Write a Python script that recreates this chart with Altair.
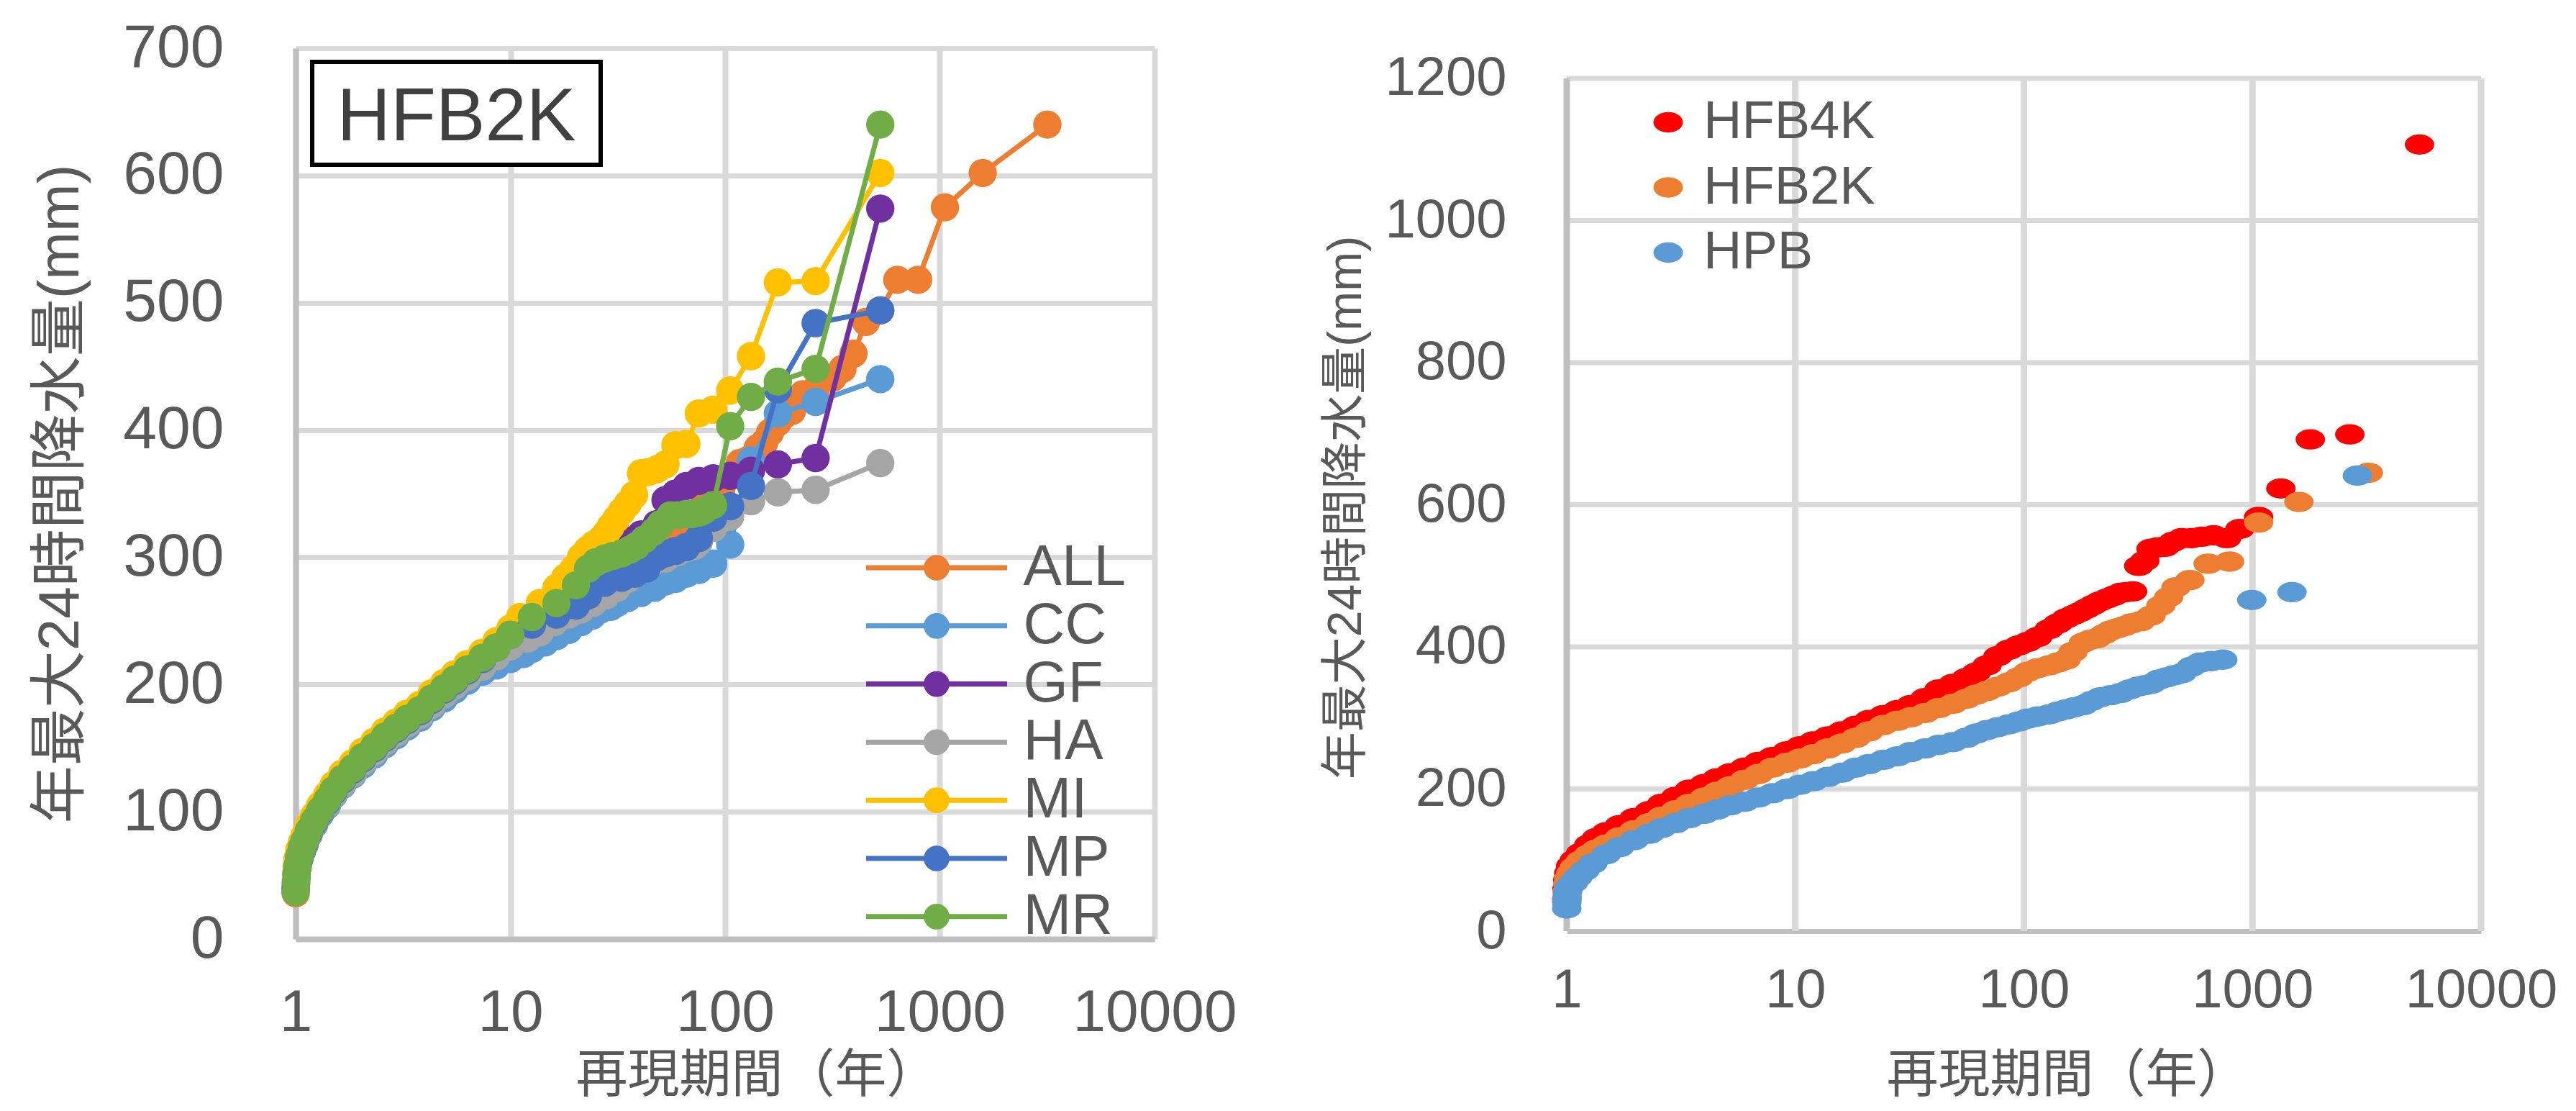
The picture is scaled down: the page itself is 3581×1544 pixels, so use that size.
import altair as alt
import pandas as pd

FONT = "Liberation Sans, Noto Sans CJK JP, sans-serif"
TEXT_COLOR = "#595959"
GRID_COLOR = "#D9D9D9"
AXIS_COLOR = "#BFBFBF"

# ---------------- left panel data (return period T [yr], annual max 24h rainfall V [mm]) ----------
LEFT_NAMES = ["ALL", "CC", "GF", "HA", "MI", "MP", "MR"]
LEFT_COLORS = ["#ED7D31", "#5B9BD5", "#7030A0", "#A5A5A5", "#FFC000", "#4472C4", "#70AD47"]
BOX_LABEL = "HFB2K"

LOW_T = [1.0, 1.005, 1.01, 1.02, 1.04, 1.07, 1.1, 1.15, 1.22, 1.3, 1.4, 1.5, 1.65, 1.84, 2.05,
         2.32, 2.6, 2.93, 3.3, 3.79, 4.3, 4.9, 5.5, 6.3, 7.4, 8.6, 10.0]

ALL_T = LOW_T + [12.6, 16.4, 20, 25, 30, 36, 42, 50, 56, 63, 69, 75, 80, 88, 96, 107, 117, 127, 135,
                 142, 152, 162, 176, 186, 205, 230, 264, 317, 352, 396, 453, 528, 634, 792, 1056,
                 1584, 3168]
ALL_V = [36, 43, 49, 56, 64, 71, 76, 84, 92, 100, 108, 116, 125, 133, 142, 150, 158, 165, 172, 179,
         188, 196, 203, 211, 220, 228, 237,
         247, 258, 269, 282, 294, 302, 310, 316, 320, 324, 330, 335, 342, 348, 353, 364, 374, 376,
         379, 386, 390, 398, 406, 411, 415, 428, 432, 441, 448, 460, 485, 494, 518, 518, 575,
         602, 640]

CC_T = LOW_T + [11.5, 12.6, 14.5, 16.4, 18.7, 21.3, 24, 26.4, 29.3, 31.4, 35.2, 40.6, 46.9, 52.8,
                58.7, 66, 75.4, 88, 105.6, 132, 176, 264, 528]
CC_V = [42, 47, 52, 57, 63, 69, 74, 82, 90, 98, 105, 113, 121, 129, 137, 145, 153, 160, 167, 174,
        182, 189, 196, 203, 210, 215, 220,
        224, 228, 233, 238, 243, 249, 254, 259, 261, 264, 268, 272, 276, 281, 283, 287, 290, 295,
        310, 376, 413, 422, 440]

GF_T = LOW_T + [12.6, 16.4, 20.2, 24, 29.3, 35.2, 40.6, 48, 52.8, 58.7, 66, 75.4, 88, 105.6, 132,
                176, 264, 528]
GF_V = [40, 46, 51, 56, 63, 70, 75, 83, 91, 99, 107, 115, 124, 132, 141, 149, 157, 164, 171, 178,
        187, 195, 202, 210, 219, 227, 236,
        250, 263, 277, 290, 305, 313, 318, 326, 345, 350, 356, 360, 362, 364, 368, 373, 378, 574]

HA_T = LOW_T + [12, 13.7, 16, 18.7, 21.3, 24.2, 27.8, 31.4, 35.2, 40.7, 46, 52.8, 60, 66, 72.3,
                75.4, 88, 105.6, 132, 176, 264, 528]
HA_V = [44, 48, 53, 58, 64, 70, 75, 83, 91, 99, 106, 114, 122, 130, 139, 147, 155, 162, 169, 176,
        184, 192, 199, 206, 214, 222, 230,
        236, 241, 249, 255, 259, 264, 270, 276, 283, 291, 296, 299, 304, 307, 309, 312, 323, 332,
        344, 351, 353, 374]

MI_T = LOW_T + [11.1, 13.7, 16.4, 18, 19.7, 21.3, 22.9, 24.5, 26.4, 28, 29.3, 31.1, 33, 35.2, 37.7,
                40.6, 44, 48, 52.8, 58.7, 66, 75.4, 88, 105.6, 132, 176, 264, 528]
MI_V = [42, 50, 57, 63, 70, 76, 81, 89, 97, 105, 113, 121, 130, 138, 147, 155, 163, 170, 177, 184,
        193, 201, 208, 216, 225, 234, 244,
        253, 264, 276, 284, 291, 300, 306, 310, 314, 319, 324, 330, 336, 342, 349, 366, 367, 369,
        373, 388, 389, 413, 416, 431, 458, 516, 517, 602]

MP_T = LOW_T + [12.6, 16.4, 20.2, 23, 27.5, 33, 38, 43, 48, 52.8, 58.7, 66, 75.4, 88, 105.6, 132,
                176, 264, 528]
MP_V = [39, 45, 51, 57, 64, 71, 76, 84, 92, 100, 108, 116, 125, 133, 142, 150, 158, 165, 172, 179,
        188, 196, 203, 211, 220, 229, 239,
        247, 255, 262, 270, 280, 284, 287, 291, 300, 303, 305, 308, 315, 331, 340, 356, 432, 484, 494]

MR_T = LOW_T + [12.6, 16.4, 20.2, 23, 25, 27.5, 30, 33, 36, 38.7, 42, 46.4, 50, 55.7, 60, 66, 70.3,
                75.4, 80, 88, 105.6, 132, 176, 264, 528]
MR_V = [37, 44, 50, 57, 65, 72, 77, 85, 93, 101, 109, 117, 126, 134, 143, 151, 159, 166, 173, 180,
        189, 197, 204, 212, 221, 229, 239,
        253, 264, 278, 291, 296, 299, 301, 303, 306, 309, 314, 320, 326, 333, 333, 334, 334, 335,
        337, 341, 403, 426, 438, 448, 640]

LEFT_SERIES = {"ALL": (ALL_T, ALL_V), "CC": (CC_T, CC_V), "GF": (GF_T, GF_V), "HA": (HA_T, HA_V),
               "MI": (MI_T, MI_V), "MP": (MP_T, MP_V), "MR": (MR_T, MR_V)}

# ---------------- right panel data ----------------
RIGHT_NAMES = ["HFB4K", "HFB2K", "HPB"]
RIGHT_COLORS = ["#FF0000", "#ED7D31", "#5B9BD5"]

HFB4K_T = [1.0, 1.003, 1.01, 1.02, 1.04, 1.08, 1.15, 1.25, 1.35, 1.49, 1.7, 1.97, 2.3, 2.6, 3.0,
           3.44, 4.0, 4.55, 5.2, 6.0, 6.9, 7.95, 9.2, 10.5, 12, 13.9, 16, 18.4, 21, 24.3, 28, 32,
           37, 42.5, 49, 56, 62, 69, 77, 86, 95, 104, 115, 129, 141, 153, 165, 176, 188, 201, 215,
           231, 248, 265, 280, 299, 318, 338, 360, 386, 415, 450, 491, 540, 600, 675, 771, 881,
           1064, 1331, 1791, 2667, 5380]
HFB4K_V = [45, 60, 72, 82, 92, 100, 110, 122, 131, 139, 149, 159, 169, 179, 189, 199, 207, 215, 222,
           230, 238, 245, 253, 260, 267, 274, 281, 289, 297, 304, 311, 318, 328, 340, 348, 356, 364,
           374, 387, 396, 402, 407, 414, 425, 433, 440, 445, 449, 454, 459, 464, 468, 472, 476, 477,
           478, 514, 521, 538, 540, 541, 548, 553, 553, 555, 557, 553, 566, 583, 623, 692, 699, 1107]

HFB2K_T = [1.0, 1.003, 1.01, 1.02, 1.04, 1.08, 1.15, 1.25, 1.35, 1.49, 1.7, 1.97, 2.3, 2.6, 3.0,
           3.44, 4.0, 4.55, 5.2, 6.0, 6.9, 7.95, 9.2, 10.5, 12, 13.9, 16, 18.4, 21, 24.3, 28, 32,
           37, 42.5, 49, 56, 62, 69, 77, 86, 95, 104, 115, 129, 141, 153, 164, 182, 195, 208, 225,
           239, 256, 274, 295, 324, 360, 397, 430, 463, 532, 640, 794, 1064, 1597, 3213]
HFB2K_V = [42, 55, 66, 74, 81, 90, 99, 108, 115, 122, 132, 142, 152, 161, 170, 179, 188, 196, 204,
           213, 221, 230, 237, 243, 249, 257, 264, 272, 281, 290, 296, 301, 307, 314, 320, 327, 333,
           338, 344, 350, 357, 365, 370, 374, 378, 382, 393, 406, 410, 412, 418, 423, 426, 429, 433,
           436, 444, 458, 470, 484, 494, 517, 520, 575, 604, 645]

HPB_T = [1.0, 1.001, 1.003, 1.01, 1.03, 1.07, 1.12, 1.2, 1.3, 1.49, 1.7, 1.97, 2.3, 2.6, 3.0, 3.44,
         4.0, 4.55, 5.2, 6.0, 6.9, 7.95, 9.2, 10.5, 12, 13.9, 16, 18.4, 21, 24.3, 28, 32, 37, 42.5,
         49, 56, 62, 69, 77, 86, 95, 104, 115, 129, 141, 153, 166, 182, 198, 216, 240, 265, 290,
         315, 337, 361, 390, 421, 455, 491, 540, 593, 660, 741, 993, 1489, 2877]
HPB_V = [32, 40, 48, 56, 63, 68, 76, 85, 95, 108, 118, 128, 137, 145, 152, 159, 165, 171, 177, 182,
         188, 194, 200, 206, 211, 217, 223, 230, 235, 241, 246, 252, 257, 262, 266, 272, 278, 283,
         287, 291, 295, 299, 302, 305, 309, 312, 315, 318, 324, 329, 332, 335, 340, 344, 346, 348,
         354, 357, 360, 363, 372, 378, 380, 382, 466, 477, 641]

RIGHT_SERIES = {"HFB4K": (HFB4K_T, HFB4K_V), "HFB2K": (HFB2K_T, HFB2K_V), "HPB": (HPB_T, HPB_V)}

X_TICKS = [1, 10, 100, 1000, 10000]
LEFT_Y_TICKS = [0, 100, 200, 300, 400, 500, 600, 700]
RIGHT_Y_TICKS = [0, 200, 400, 600, 800, 1000, 1200]
X_TITLE = "再現期間（年）"
Y_TITLE = "年最大24時間降水量(mm)"

# ---------------- symbols ----------------
# legend symbol for the left panel: a line with a (solid, built from concentric strokes) circle
LINE_MARKER_PATH = ("M-5.6,0L5.6,0 "
                    "M0.82,0A0.82,0.82 0 1,1 -0.82,0A0.82,0.82 0 1,1 0.82,0 "
                    "M0.45,0A0.45,0.45 0 1,1 -0.45,0A0.45,0.45 0 1,1 0.45,0 "
                    "M0.12,0A0.12,0.12 0 1,1 -0.12,0A0.12,0.12 0 1,1 0.12,0")
ELLIPSE_PATH = "M-1,0A1,0.69 0 1,1 1,0A1,0.69 0 1,1 -1,0Z"

# ---------------- left chart ----------------
LW, LH = 1194, 1238
left_x = alt.X("T:Q", scale=alt.Scale(type="log", domain=[1, 10000], nice=False),
               axis=alt.Axis(values=X_TICKS, format="d", labelFontSize=82, labelColor=TEXT_COLOR,
                             labelPadding=62, labelFlush=False, labelOverlap=False, labelLimit=1000,
                             ticks=False, tickSize=0, domainColor=AXIS_COLOR, domainWidth=8,
                             grid=True, gridColor=GRID_COLOR, gridWidth=8, title=X_TITLE,
                             titleFontSize=72, titleColor=TEXT_COLOR, titleFontWeight="normal",
                             titleX=641, titleY=154, titleAlign="center", titleBaseline="top",
                             titleAngle=0, titleLimit=2000))
left_y = alt.Y("V:Q", scale=alt.Scale(domain=[0, 700], nice=False),
               axis=alt.Axis(values=LEFT_Y_TICKS, format="d", labelFontSize=84,
                             labelColor=TEXT_COLOR, labelPadding=100, labelLimit=1000, ticks=False,
                             tickSize=0, domainColor=AXIS_COLOR, domainWidth=8, grid=True,
                             gridColor=GRID_COLOR, gridWidth=7, title=Y_TITLE, titleFontSize=80,
                             titleColor=TEXT_COLOR, titleFontWeight="normal", titleAngle=270,
                             titleBaseline="bottom", titleAlign="center", titleX=-286, titleY=619,
                             titleLimit=2000))
left_scale = alt.Scale(domain=LEFT_NAMES, range=LEFT_COLORS)
left_legend = alt.Legend(orient="none", legendX=851, legendY=682, title=None,
                         symbolType=LINE_MARKER_PATH, symbolSize=1225, symbolStrokeWidth=7,
                         labelFontSize=80, labelColor=TEXT_COLOR, labelOffset=80.6, rowPadding=0.8,
                         padding=0, symbolOffset=0, labelLimit=1000)

left_layers = []
for name in LEFT_NAMES:
    t_vals, v_vals = LEFT_SERIES[name]
    df = pd.DataFrame({"T": t_vals, "V": v_vals, "S": name})
    base = alt.Chart(df)
    left_layers.append(
        base.mark_line(strokeWidth=7, strokeJoin="round").encode(
            x=left_x, y=left_y, color=alt.Color("S:N", scale=left_scale, legend=left_legend)))
    left_layers.append(
        base.mark_point(filled=True, shape="circle", size=1550, opacity=1, strokeWidth=0).encode(
            x=left_x, y=left_y, fill=alt.Fill("S:N", scale=left_scale, legend=None)))

box_df = pd.DataFrame({"label": [BOX_LABEL]})
box = alt.Chart(box_df).mark_rect(fill="white", stroke="black", strokeWidth=6).encode(
    x=alt.value(23), x2=alt.value(424), y=alt.value(19), y2=alt.value(162))
box_text = alt.Chart(box_df).mark_text(fontSize=103, color="#404040", align="center",
                                       baseline="middle").encode(
    x=alt.value(223.5), y=alt.value(97), text="label:N")

left_chart = alt.layer(*left_layers, box, box_text).properties(width=LW, height=LH)

# ---------------- right chart ----------------
RW, RH = 1271, 1227
R_TOP = 1242.5  # plot area reaches a bit above the 1200 grid line
right_x = alt.X("T:Q", scale=alt.Scale(type="log", domain=[1, 10000], nice=False),
                axis=alt.Axis(values=X_TICKS, format="d", labelFontSize=76, labelColor=TEXT_COLOR,
                              labelPadding=45, labelFlush=False, labelOverlap=False,
                              labelLimit=1000, ticks=False, tickSize=0, domainColor=AXIS_COLOR,
                              domainWidth=7, grid=False, title=X_TITLE, titleFontSize=72,
                              titleColor=TEXT_COLOR, titleFontWeight="normal", titleX=696,
                              titleY=165, titleAlign="center", titleBaseline="top", titleAngle=0,
                              titleLimit=2000))
right_y = alt.Y("V:Q", scale=alt.Scale(domain=[0, R_TOP], nice=False),
                axis=alt.Axis(values=RIGHT_Y_TICKS, format="d", labelFontSize=76,
                              labelColor=TEXT_COLOR, labelPadding=84, labelLimit=1000, ticks=False,
                              tickSize=0, domain=False, grid=False, title=Y_TITLE,
                              titleFontSize=66, titleColor=TEXT_COLOR, titleFontWeight="normal",
                              titleAngle=270, titleBaseline="bottom", titleAlign="center",
                              titleX=-273, titleY=638, titleLimit=2000))

R_HGRID = [200, 400, 600, 800, 1000, 1200]
R_VGRID = [10, 100, 1000, 10000]
GRID_LOW, GRID_HIGH = 0, 1200

hgrid = alt.Chart(pd.DataFrame({"V": R_HGRID})).mark_rule(
    color=GRID_COLOR, strokeWidth=7).encode(y=right_y)
vgrid = alt.Chart(pd.DataFrame({"T": R_VGRID, "V": [GRID_LOW] * len(R_VGRID),
                                "V2": [GRID_HIGH] * len(R_VGRID)})).mark_rule(
    color=GRID_COLOR, strokeWidth=9).encode(x=right_x, y=right_y, y2="V2:Q")
yline = alt.Chart(pd.DataFrame({"T": [1], "V": [GRID_LOW], "V2": [GRID_HIGH]})).mark_rule(
    color=AXIS_COLOR, strokeWidth=9).encode(x=right_x, y=right_y, y2="V2:Q")

right_frames = []
for name in RIGHT_NAMES:
    t_vals, v_vals = RIGHT_SERIES[name]
    right_frames.append(pd.DataFrame({"T": t_vals, "V": v_vals, "S": name}))
right_df = pd.concat(right_frames, ignore_index=True)

right_legend = alt.Legend(orient="none", legendX=104, legendY=66, title=None,
                          symbolType=ELLIPSE_PATH, symbolSize=1681, symbolStrokeWidth=0,
                          labelFontSize=74, labelColor=TEXT_COLOR, labelOffset=12,
                          rowPadding=16.5, padding=0, symbolOffset=0, labelLimit=1000)
right_pts = alt.Chart(right_df).mark_point(filled=True, shape=ELLIPSE_PATH, size=1681, opacity=1,
                                           strokeWidth=0).encode(
    x=right_x, y=right_y,
    color=alt.Color("S:N", scale=alt.Scale(domain=RIGHT_NAMES, range=RIGHT_COLORS),
                    legend=right_legend))

right_chart = alt.layer(hgrid, vgrid, yline, right_pts).properties(width=RW, height=RH)

chart = alt.hconcat(left_chart, right_chart, spacing=117).resolve_scale(
    color="independent", fill="independent"
).resolve_legend(
    color="independent", fill="independent"
).properties(
    padding={"left": 35, "top": 16, "right": 10, "bottom": 0},
    background="white",
).configure(font=FONT).configure_view(stroke="transparent")

chart.save("out.html", embed_options={"renderer": "svg", "actions": False})
